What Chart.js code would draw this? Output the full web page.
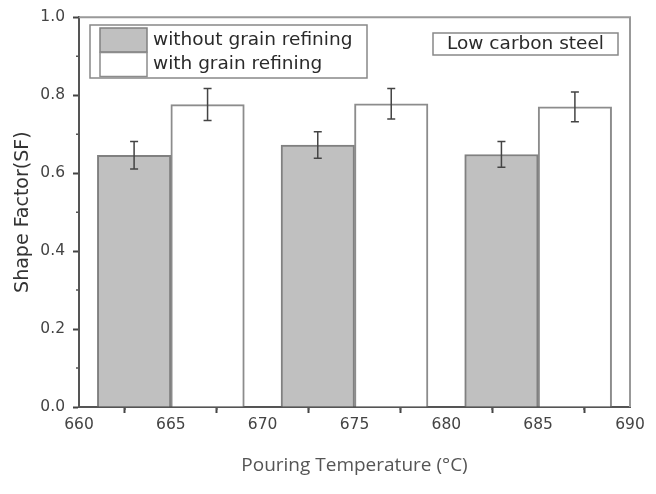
<!DOCTYPE html>
<html lang="en">
<head>
  <meta charset="UTF-8">
  <title>Shape Factor vs Pouring Temperature</title>
  <script src="https://cdn.jsdelivr.net/npm/chart.js"></script>
  <style>
    body {
      margin: 0;
      background: #ffffff;
    }
    #chartBox {
      width: 656px;
      height: 494px;
    }
  </style>
</head>
<body>
  <div id="chartBox">
    <canvas id="sfChart" width="656" height="494"></canvas>
  </div>

  <script>
    // values
    const withoutX = [663, 673, 683];
    const withX = [667, 677, 687];
    const withoutSF = [0.646, 0.672, 0.648];
    const withoutErr = [0.035, 0.034, 0.033];
    const withSF = [0.776, 0.778, 0.770];
    const withErr = [0.041, 0.039, 0.038];
    const seriesLabels = ['without grain refining', 'with grain refining'];
    const xTickValues = [660, 665, 670, 675, 680, 685, 690];
    const yTickValues = [0.0, 0.2, 0.4, 0.6, 0.8, 1.0];
    const noteText = 'Low carbon steel';

    const tickFont = { family: 'DejaVu Sans', size: 15.5 };
    const textFont = 'DejaVu Sans';

    // error bars, drawn from the y scale
    const errorBarPlugin = {
      id: 'errorBarPlugin',
      afterDatasetsDraw: (chart) => {
        const ctx = chart.ctx;
        const yScale = chart.scales.y;
        chart.data.datasets.forEach((ds, i) => {
          const meta = chart.getDatasetMeta(i);
          meta.data.forEach((bar, j) => {
            const v = ds.data[j].y;
            const e = ds.errors[j];
            const top = yScale.getPixelForValue(v + e);
            const bottom = yScale.getPixelForValue(v - e);
            ctx.save();
            ctx.strokeStyle = '#444';
            ctx.lineWidth = 1.5;
            ctx.beginPath();
            ctx.moveTo(bar.x, top);
            ctx.lineTo(bar.x, bottom);
            ctx.moveTo(bar.x - 4, top);
            ctx.lineTo(bar.x + 4, top);
            ctx.moveTo(bar.x - 4, bottom);
            ctx.lineTo(bar.x + 4, bottom);
            ctx.stroke();
            ctx.restore();
          });
        });
      }
    };

    // top/right frame, minor ticks, legend box and note box
    const framePlugin = {
      id: 'framePlugin',
      afterDraw: (chart) => {
        const ctx = chart.ctx;
        const area = chart.chartArea;
        const xs = chart.scales.x;
        const ys = chart.scales.y;
        ctx.save();

        ctx.strokeStyle = '#999';
        ctx.lineWidth = 2;
        ctx.beginPath();
        ctx.moveTo(area.left, area.top);
        ctx.lineTo(area.right, area.top);
        ctx.lineTo(area.right, area.bottom);
        ctx.stroke();

        // minor ticks halfway between majors
        ctx.strokeStyle = '#555';
        ctx.lineWidth = 1.5;
        ctx.beginPath();
        for (let i = 0; i < xTickValues.length - 1; i++) {
          const px = xs.getPixelForValue((xTickValues[i] + xTickValues[i + 1]) / 2);
          ctx.moveTo(px, area.bottom);
          ctx.lineTo(px, area.bottom + 3);
        }
        for (let i = 0; i < yTickValues.length - 1; i++) {
          const py = ys.getPixelForValue((yTickValues[i] + yTickValues[i + 1]) / 2);
          ctx.moveTo(area.left, py);
          ctx.lineTo(area.left - 3, py);
        }
        ctx.stroke();

        // legend
        ctx.strokeStyle = '#888';
        ctx.lineWidth = 1.5;
        ctx.strokeRect(90, 25, 277, 53);
        chart.data.datasets.forEach((ds, i) => {
          const y0 = 28 + i * 24.5;
          ctx.fillStyle = ds.backgroundColor;
          ctx.fillRect(100, y0, 47, 24);
          ctx.strokeStyle = ds.borderColor;
          ctx.lineWidth = 1.5;
          ctx.strokeRect(100, y0, 47, 24);
          ctx.fillStyle = '#2a2a2a';
          ctx.font = '18.5px "' + textFont + '"';
          ctx.textBaseline = 'middle';
          ctx.textAlign = 'left';
          ctx.fillText(ds.label, 153, y0 + 12);
        });

        // note
        ctx.strokeStyle = '#888';
        ctx.lineWidth = 1.5;
        ctx.strokeRect(433, 33, 185, 22);
        ctx.fillStyle = '#2a2a2a';
        ctx.font = '18.5px "' + textFont + '"';
        ctx.textAlign = 'center';
        ctx.textBaseline = 'middle';
        ctx.fillText(noteText, 525.5, 44.5);

        ctx.restore();
      }
    };

    const ctx = document.getElementById('sfChart').getContext('2d');

    const sfChart = new Chart(ctx, {
      type: 'bar',
      data: {
        datasets: [
          {
            label: seriesLabels[0],
            data: withoutX.map((x, i) => ({ x: x, y: withoutSF[i] })),
            errors: withoutErr,
            backgroundColor: '#c0c0c0',
            borderColor: '#808080',
            borderWidth: 2,
            grouped: false,
            categoryPercentage: 1,
            barPercentage: 1
          },
          {
            label: seriesLabels[1],
            data: withX.map((x, i) => ({ x: x, y: withSF[i] })),
            errors: withErr,
            backgroundColor: '#ffffff',
            borderColor: '#8c8c8c',
            borderWidth: 2,
            grouped: false,
            categoryPercentage: 1,
            barPercentage: 1
          }
        ]
      },
      options: {
        responsive: false,
        animation: false,
        devicePixelRatio: 1,
        layout: {
          padding: { top: 17, right: 26, left: 0, bottom: 0 }
        },
        scales: {
          x: {
            type: 'linear',
            min: 660,
            max: 690,
            offset: false,
            afterFit: (scale) => { scale.height = 87; },
            afterBuildTicks: (scale) => {
              scale.ticks = xTickValues.map(v => ({ value: v }));
            },
            ticks: {
              font: tickFont,
              color: '#444',
              padding: 3,
              maxRotation: 0
            },
            grid: {
              drawOnChartArea: false,
              tickLength: 6,
              tickColor: '#444',
              tickWidth: 2
            },
            border: { color: '#555', width: 2 },
            title: {
              display: true,
              text: 'Pouring Temperature (°C)',
              font: { family: 'Open Sans', size: 19 },
              color: '#555',
              padding: { top: 0, bottom: 17 }
            }
          },
          y: {
            min: 0,
            max: 1,
            afterFit: (scale) => { scale.width = 79; },
            afterBuildTicks: (scale) => {
              scale.ticks = yTickValues.map(v => ({ value: v }));
            },
            ticks: {
              font: tickFont,
              color: '#444',
              padding: 8,
              callback: (v) => v.toFixed(1)
            },
            grid: {
              drawOnChartArea: false,
              tickLength: 6,
              tickColor: '#444',
              tickWidth: 2
            },
            border: { color: '#555', width: 2 },
            title: {
              display: true,
              text: 'Shape Factor(SF)',
              font: { family: 'DejaVu Sans', size: 19 },
              color: '#333',
              padding: { top: 12, bottom: 0 }
            }
          }
        },
        plugins: {
          legend: { display: false },
          tooltip: { enabled: false }
        }
      },
      plugins: [errorBarPlugin, framePlugin]
    });
  </script>
</body>
</html>
